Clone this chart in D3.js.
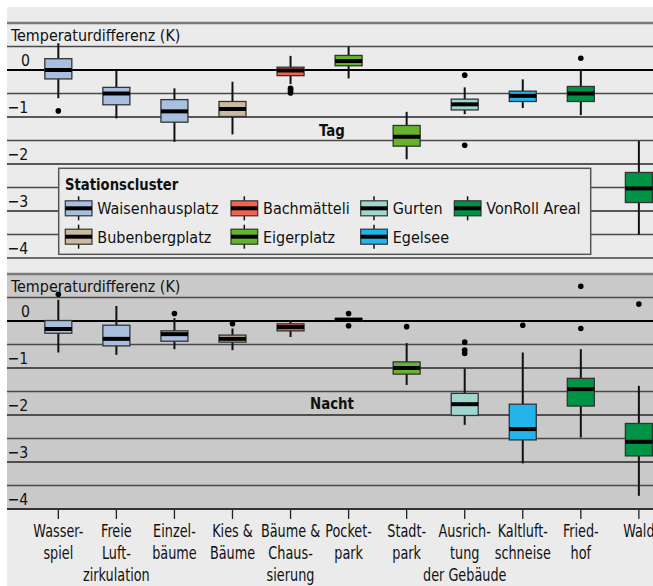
<!DOCTYPE html>
<html>
<head>
<meta charset="utf-8">
<script src="https://cdn.jsdelivr.net/npm/d3@7"></script>
<style>
  body { margin: 0; background: #fff; }
  svg text { font-family: "DejaVu Sans Condensed", "DejaVu Sans", sans-serif; fill: #111; }
</style>
</head>
<body>
<svg id="chart" width="653" height="586"></svg>
<script>
// Site categories (line breaks marked with "|")
const categories = [
  "Wasser-|spiel", "Freie|Luft-|zirkulation", "Einzel-|bäume", "Kies &|Bäume",
  "Bäume &|Chaus-|sierung", "Pocket-|park", "Stadt-|park", "Ausrich-|tung|der Gebäude",
  "Kaltluft-|schneise", "Fried-|hof", "Wald"
];
// Station cluster of each category
const categoryCluster = [
  "Waisenhausplatz", "Waisenhausplatz", "Waisenhausplatz", "Bubenbergplatz",
  "Bachmätteli", "Eigerplatz", "Eigerplatz", "Gurten", "Egelsee",
  "VonRoll Areal", "VonRoll Areal"
];
const clusters = ["Waisenhausplatz", "Bubenbergplatz", "Bachmätteli", "Eigerplatz", "Gurten", "Egelsee", "VonRoll Areal"];
const clusterColors = ["#a9bfe0", "#cbbb9e", "#ef6350", "#67b32e", "#a0d6cf", "#22b4ea", "#009245"];

// Box statistics: [lower whisker, Q1, median, Q3, upper whisker] in K
const tagStats = [
  [-0.60, -0.19,  0.00,  0.24,  0.57],
  [-1.03, -0.74, -0.50, -0.37, -0.01],
  [-1.53, -1.11, -0.88, -0.63, -0.39],
  [-1.37, -0.99, -0.83, -0.67, -0.25],
  [-0.30, -0.12, -0.01,  0.06,  0.30],
  [-0.18,  0.09,  0.19,  0.31,  0.50],
  [-1.90, -1.62, -1.42, -1.18, -0.89],
  [-0.94, -0.85, -0.73, -0.62, -0.37],
  [-0.81, -0.67, -0.55, -0.45, -0.20],
  [-0.96, -0.67, -0.50, -0.35,  0.02],
  [-3.50, -2.82, -2.52, -2.18, -1.51]
];
const tagOutliers = [[-0.87], [], [], [], [-0.39, -0.42, -0.46, -0.49], [], [], [-0.11, -1.60], [], [0.25], []];

const nachtStats = [
  [-0.67, -0.26, -0.17,  0.01,  0.45],
  [-0.72, -0.53, -0.38, -0.09,  0.32],
  [-0.60, -0.43, -0.28, -0.21,  0.06],
  [-0.62, -0.45, -0.38, -0.30, -0.16],
  [-0.34, -0.21, -0.13, -0.06,  0.02],
  [ 0.01,  0.01,  0.03,  0.05,  0.05],
  [-1.36, -1.13, -1.00, -0.87, -0.47],
  [-2.21, -2.01, -1.77, -1.54, -1.01],
  [-3.03, -2.53, -2.30, -1.77, -0.67],
  [-2.48, -1.81, -1.45, -1.22, -0.60],
  [-3.72, -2.87, -2.57, -2.18, -1.38]
];
const nachtOutliers = [[0.57], [], [0.16], [-0.06], [], [0.16, -0.10], [-0.12], [-0.45, -0.62, -0.69], [-0.09], [0.74, -0.16], [0.36]];

const gridValues = [1, 0.5, 0, -0.5, -1, -1.5, -2, -2.5, -3, -3.5, -4];
const yTicks = [0, -1, -2, -3, -4];
const yTickLabels = ["0", "−1", "−2", "−3", "−4"];
const axisTitle = "Temperaturdifferenz (K)";

const svg = d3.select("#chart");
const W = 653, H = 586;
const left = 7;

// horizontally condensed text, anchored at (x, y)
function label(parent, x, y, str, size, sx, opts = {}) {
  const t = parent.append("text")
    .attr("transform", `translate(${x},${y}) scale(${sx},1)`)
    .attr("font-size", size)
    .attr("text-anchor", opts.anchor || "start")
    .text(str);
  if (opts.bold) t.attr("font-weight", "bold");
  return t;
}

const color = d3.scaleOrdinal().domain(clusters).range(clusterColors);
const x = d3.scaleBand().domain(categories).range([29.3, 667.9]);
const cx = c => x(c) + x.bandwidth() / 2;
const boxW = 27;

// backgrounds
svg.append("rect").attr("x", left).attr("y", 7).attr("width", W - left).attr("height", H - 7).attr("fill", "#ebebeb");

const panels = [
  { name: "Tag", stats: tagStats, outliers: tagOutliers, y: d3.scaleLinear().domain([1, -4]).range([23, 258]), bg: "#ebebeb", labelY: 136 },
  { name: "Nacht", stats: nachtStats, outliers: nachtOutliers, y: d3.scaleLinear().domain([1, -4]).range([274, 509]), bg: "#c9c9c9", labelY: 409 }
];

panels.forEach((p, pi) => {
  const g = svg.append("g");
  const [yTop, yBot] = p.y.range();
  g.append("rect").attr("x", left).attr("y", yTop).attr("width", W - left).attr("height", yBot - yTop).attr("fill", p.bg);

  // horizontal grid
  g.selectAll("line.grid").data(gridValues).join("line")
    .attr("x1", left).attr("x2", W)
    .attr("y1", d => p.y(d)).attr("y2", d => p.y(d))
    .attr("stroke", d => d === 1 ? "#7a7a7a" : (d === -4 ? (pi === 0 ? "#6a6a6a" : "#333") : (d === 0 ? "#000" : (Number.isInteger(d) ? "#262626" : "#4a4a4a"))))
    .attr("stroke-width", d => d === 1 ? 2.5 : (d === -4 ? 2.2 : (d === 0 ? 2.2 : 1.3)));

  // axis title and tick labels
  label(g, 11, p.y(0.5) - 5.5, axisTitle, 16.5, 0.965);
  yTicks.forEach((d, i) => {
    label(g, d === 0 ? 21 : 7.5, p.y(d) - 3.8, yTickLabels[i], 16.5, 0.95);
  });

  // panel label
  label(g, 332, p.labelY, p.name, 16.5, 0.9, { anchor: "middle", bold: true });

  if (pi === 0) drawLegend();

  // boxes
  categories.forEach((c, i) => {
    const s = p.stats[i];
    const xc = cx(c);
    const bg = g.append("g");
    bg.append("line").attr("x1", xc).attr("x2", xc).attr("y1", p.y(s[0])).attr("y2", p.y(s[4]))
      .attr("stroke", "#111").attr("stroke-width", 2);
    bg.append("rect").attr("x", xc - boxW / 2).attr("width", boxW)
      .attr("y", p.y(s[3])).attr("height", Math.max(0.5, p.y(s[1]) - p.y(s[3])))
      .attr("fill", color(categoryCluster[i])).attr("stroke", "#333").attr("stroke-width", 1.3);
    bg.append("line").attr("x1", xc - boxW / 2).attr("x2", xc + boxW / 2)
      .attr("y1", p.y(s[2])).attr("y2", p.y(s[2])).attr("stroke", "#000").attr("stroke-width", 4);
    bg.selectAll("circle").data(p.outliers[i]).join("circle")
      .attr("cx", xc).attr("cy", d => p.y(d)).attr("r", 2.8).attr("fill", "#000");
  });
});

// x axis ticks and labels
const yAxis = 509;
svg.selectAll("line.xtick").data(categories).join("line")
  .attr("x1", d => cx(d)).attr("x2", d => cx(d)).attr("y1", yAxis + 1).attr("y2", yAxis + 10)
  .attr("stroke", "#222").attr("stroke-width", 1.3);
categories.forEach(c => {
  const t = svg.append("text")
    .attr("transform", `translate(${cx(c)},0) scale(0.84,1)`)
    .attr("text-anchor", "middle").attr("font-size", 17);
  c.split("|").forEach((line, k) => {
    t.append("tspan").attr("x", 0).attr("y", 537 + k * 22).text(line);
  });
});

function drawLegend() {
  const lg = svg.append("g");
  lg.append("rect").attr("x", 58.7).attr("y", 168.3).attr("width", 532).attr("height", 86)
    .attr("fill", "#ebebeb").attr("stroke", "#555").attr("stroke-width", 1.5);
  label(lg, 65, 190, "Stationscluster", 16.5, 0.89, { bold: true });
  const colX = [65.3, 231, 360.7, 454.3];
  const rowY = [208.3, 236.7];
  clusters.forEach((cl, i) => {
    const gx = colX[Math.floor(i / 2)], gy = rowY[i % 2];
    const it = lg.append("g");
    it.append("line").attr("x1", gx + 13.3).attr("x2", gx + 13.3).attr("y1", gy - 12).attr("y2", gy + 12)
      .attr("stroke", "#111").attr("stroke-width", 1.5);
    it.append("rect").attr("x", gx).attr("y", gy - 7.5).attr("width", 26.7).attr("height", 15)
      .attr("fill", color(cl)).attr("stroke", "#333").attr("stroke-width", 1.2);
    it.append("line").attr("x1", gx).attr("x2", gx + 26.7).attr("y1", gy).attr("y2", gy)
      .attr("stroke", "#000").attr("stroke-width", 4);
    label(it, gx + 32, gy + 6, cl, 16.5, 0.97);
  });
}
</script>
</body>
</html>
